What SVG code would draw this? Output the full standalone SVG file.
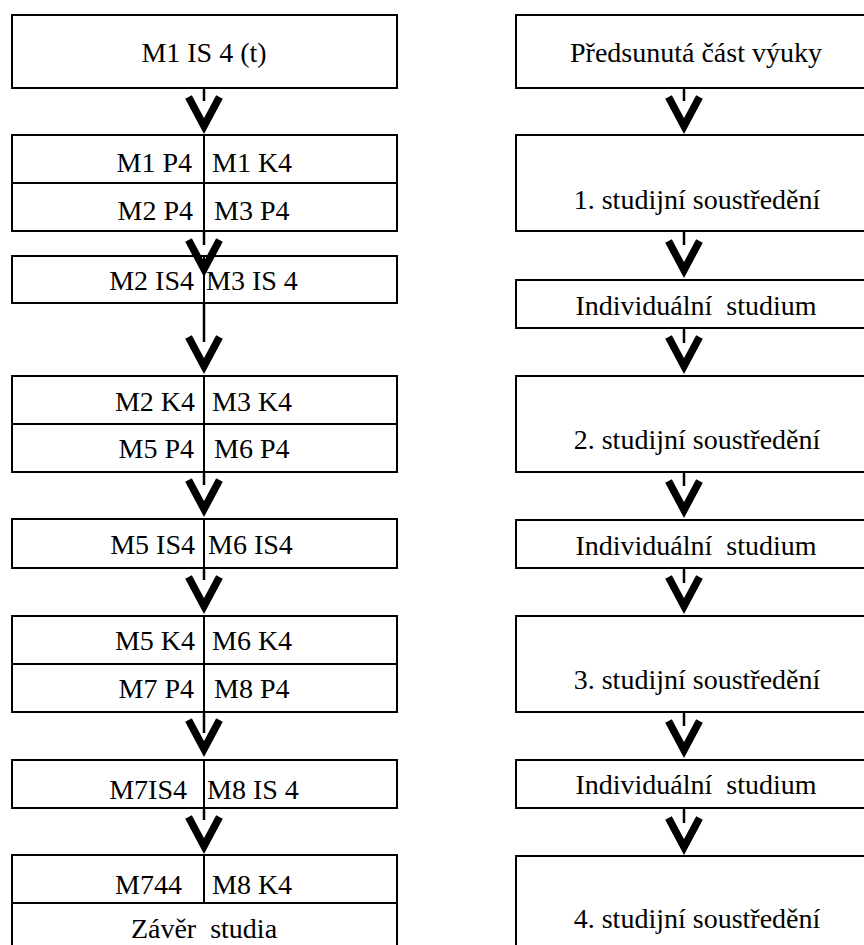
<svg xmlns="http://www.w3.org/2000/svg" xmlns:xlink="http://www.w3.org/1999/xlink" width="864" height="945" viewBox="0 0 864 945">
  <style>
    .box { fill: #fff; stroke: #000; stroke-width: 2; }
    .rule { stroke: #000; stroke-width: 2; fill: none; }
    .lbl { font-family: "Liberation Serif", "Times New Roman", serif; font-size: 28px; fill: #000; }
    .mid { text-anchor: middle; }
    .end { text-anchor: end; }
    .stem { stroke: #000; stroke-width: 2.5; fill: none; }
    .head { stroke: #000; stroke-width: 7.5; fill: none; stroke-linejoin: miter; stroke-miterlimit: 10; }
  </style>
  <defs>
    <!-- chevron head, outer tip at the origin -->
    <path id="chev" class="head" d="M-15.5,-37 L0,-8 L15.5,-37"/>
  </defs>

  <rect width="864" height="945" fill="#fff"/>

  <!-- left column: modules -->
  <g id="m1-is4">
    <rect class="box" x="12" y="15" width="385" height="73"/>
    <text class="lbl mid" x="204" y="62">M1 IS 4 (t)</text>
  </g>
  <g id="m1-p4-k4">
    <rect class="box" x="12" y="135" width="385" height="96"/>
    <line class="rule" x1="12" y1="183" x2="397" y2="183"/>
    <line class="rule" x1="204" y1="135" x2="204" y2="231"/>
    <text class="lbl end" x="192" y="172">M1 P4</text>
    <text class="lbl" x="212" y="172">M1 K4</text>
    <text class="lbl end" x="193" y="220">M2 P4</text>
    <text class="lbl" x="214" y="220">M3 P4</text>
  </g>
  <g id="m2-m3-is4">
    <rect class="box" x="12" y="256" width="385" height="47"/>
    <line class="rule" x1="204" y1="256" x2="204" y2="303"/>
    <text class="lbl end" x="194" y="290">M2 IS4</text>
    <text class="lbl" x="206" y="290">M3 IS 4</text>
  </g>
  <g id="m2-m3-k4">
    <rect class="box" x="12" y="376" width="385" height="96"/>
    <line class="rule" x1="12" y1="424" x2="397" y2="424"/>
    <line class="rule" x1="204" y1="376" x2="204" y2="472"/>
    <text class="lbl end" x="195" y="411">M2 K4</text>
    <text class="lbl" x="212" y="411">M3 K4</text>
    <text class="lbl end" x="194" y="458">M5 P4</text>
    <text class="lbl" x="214" y="458">M6 P4</text>
  </g>
  <g id="m5-m6-is4">
    <rect class="box" x="12" y="519" width="385" height="49"/>
    <line class="rule" x1="204" y1="519" x2="204" y2="568"/>
    <text class="lbl end" x="195" y="554">M5 IS4</text>
    <text class="lbl" x="208" y="554">M6 IS4</text>
  </g>
  <g id="m5-m6-k4">
    <rect class="box" x="12" y="616" width="385" height="96"/>
    <line class="rule" x1="12" y1="664" x2="397" y2="664"/>
    <line class="rule" x1="204" y1="616" x2="204" y2="712"/>
    <text class="lbl end" x="195" y="650">M5 K4</text>
    <text class="lbl" x="212" y="650">M6 K4</text>
    <text class="lbl end" x="194" y="698">M7 P4</text>
    <text class="lbl" x="214" y="698">M8 P4</text>
  </g>
  <g id="m7-m8-is4">
    <rect class="box" x="12" y="760" width="385" height="48"/>
    <line class="rule" x1="204" y1="760" x2="204" y2="808"/>
    <text class="lbl end" x="187" y="799">M7IS4</text>
    <text class="lbl" x="207" y="799">M8 IS 4</text>
  </g>
  <g id="m7-m8-k4-end">
    <rect class="box" x="12" y="855" width="385" height="110"/>
    <line class="rule" x1="12" y1="903" x2="397" y2="903"/>
    <line class="rule" x1="204" y1="855" x2="204" y2="903"/>
    <text class="lbl end" x="182" y="894">M744</text>
    <text class="lbl" x="212" y="894">M8 K4</text>
    <text class="lbl mid" x="204" y="938" xml:space="preserve">Závěr  studia</text>
  </g>

  <!-- right column: course phases -->
  <g id="predsunuta">
    <rect class="box" x="516" y="15" width="360" height="73"/>
    <text class="lbl mid" x="696" y="62">Předsunutá část výuky</text>
  </g>
  <g id="soustredeni-1">
    <rect class="box" x="516" y="135" width="360" height="96"/>
    <text class="lbl mid" x="697" y="209">1. studijní soustředění</text>
  </g>
  <g id="individualni-1">
    <rect class="box" x="516" y="280" width="360" height="48"/>
    <text class="lbl mid" x="696" y="315" xml:space="preserve">Individuální  studium</text>
  </g>
  <g id="soustredeni-2">
    <rect class="box" x="516" y="376" width="360" height="96"/>
    <text class="lbl mid" x="697" y="449">2. studijní soustředění</text>
  </g>
  <g id="individualni-2">
    <rect class="box" x="516" y="520" width="360" height="48"/>
    <text class="lbl mid" x="696" y="555" xml:space="preserve">Individuální  studium</text>
  </g>
  <g id="soustredeni-3">
    <rect class="box" x="516" y="616" width="360" height="96"/>
    <text class="lbl mid" x="697" y="689">3. studijní soustředění</text>
  </g>
  <g id="individualni-3">
    <rect class="box" x="516" y="760" width="360" height="48"/>
    <text class="lbl mid" x="696" y="794" xml:space="preserve">Individuální  studium</text>
  </g>
  <g id="soustredeni-4">
    <rect class="box" x="516" y="856" width="360" height="110"/>
    <text class="lbl mid" x="697" y="928">4. studijní soustředění</text>
  </g>

  <!-- connectors: short stem plus chevron head -->
  <g id="connectors">
    <line class="stem" x1="204" y1="88" x2="204" y2="101"/>
    <use xlink:href="#chev" x="204" y="134"/>
    <line class="stem" x1="204" y1="231" x2="204" y2="245"/>
    <use xlink:href="#chev" x="204" y="277"/>
    <line class="stem" x1="204" y1="303" x2="204" y2="342"/>
    <use xlink:href="#chev" x="204" y="374"/>
    <line class="stem" x1="204" y1="472" x2="204" y2="485"/>
    <use xlink:href="#chev" x="204" y="517"/>
    <line class="stem" x1="204" y1="568" x2="204" y2="580"/>
    <use xlink:href="#chev" x="204" y="614"/>
    <line class="stem" x1="204" y1="712" x2="204" y2="733"/>
    <use xlink:href="#chev" x="204" y="757"/>
    <line class="stem" x1="204" y1="808" x2="204" y2="820"/>
    <use xlink:href="#chev" x="204" y="854"/>

    <line class="stem" x1="684" y1="88" x2="684" y2="101"/>
    <use xlink:href="#chev" x="684" y="134"/>
    <line class="stem" x1="684" y1="231" x2="684" y2="245"/>
    <use xlink:href="#chev" x="684" y="278"/>
    <line class="stem" x1="684" y1="328" x2="684" y2="343"/>
    <use xlink:href="#chev" x="684" y="374"/>
    <line class="stem" x1="684" y1="472" x2="684" y2="486"/>
    <use xlink:href="#chev" x="684" y="518"/>
    <line class="stem" x1="684" y1="568" x2="684" y2="583"/>
    <use xlink:href="#chev" x="684" y="614"/>
    <line class="stem" x1="684" y1="712" x2="684" y2="726"/>
    <use xlink:href="#chev" x="684" y="758"/>
    <line class="stem" x1="684" y1="808" x2="684" y2="823"/>
    <use xlink:href="#chev" x="684" y="855"/>
  </g>
</svg>
